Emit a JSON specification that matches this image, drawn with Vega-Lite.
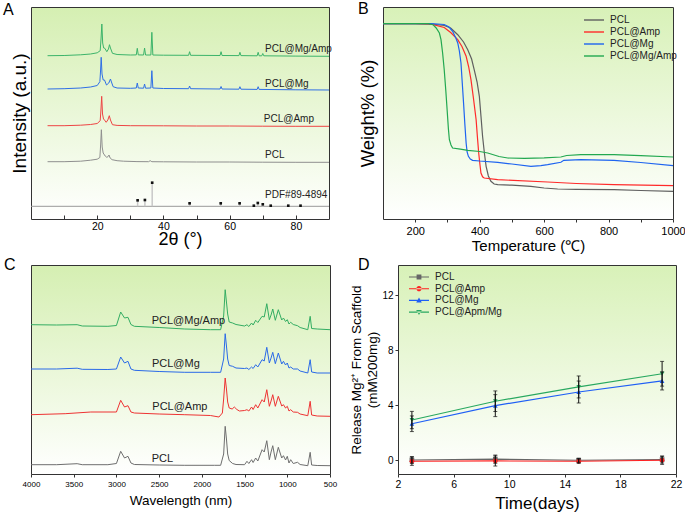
{
 "$schema": "https://vega.github.io/schema/vega-lite/v6.json",
 "padding": {"left": 2, "top": 0, "right": 0, "bottom": 0},
 "config": {
  "font": "Liberation Sans",
  "view": {"stroke": "#333", "strokeWidth": 1},
  "axis": {"grid": false, "domain": false, "tickColor": "#333", "labelColor": "#000", "titleColor": "#000", "titleFontWeight": "normal", "labelFont": "Liberation Sans", "titleFont": "Liberation Sans", "labelOverlap": false},
  "title": {"fontWeight": "normal", "fontSize": 16, "anchor": "start", "frame": "group", "color": "#000", "font": "Liberation Sans"},
  "legend": {"padding": 0, "labelFont": "Liberation Sans", "labelFontSize": 10, "labelColor": "#222"}
 },
 "datasets": {
  "xrd": [
   {"s":"PCL","x":5,"y":57.3},{"s":"PCL","x":10,"y":57.3},{"s":"PCL","x":15,"y":57.8},{"s":"PCL","x":18,"y":58.8},{"s":"PCL","x":20,"y":59.8},{"s":"PCL","x":20.8,"y":61.5},{"s":"PCL","x":21.05,"y":75},{"s":"PCL","x":21.25,"y":89.3},{"s":"PCL","x":21.5,"y":72},{"s":"PCL","x":21.8,"y":66},{"s":"PCL","x":22.0,"y":65},{"s":"PCL","x":22.4,"y":63},{"s":"PCL","x":22.9,"y":61.7},{"s":"PCL","x":23.3,"y":62.5},{"s":"PCL","x":23.55,"y":64},{"s":"PCL","x":23.9,"y":61},{"s":"PCL","x":24.5,"y":59.3},{"s":"PCL","x":26,"y":58.3},{"s":"PCL","x":28,"y":57.8},{"s":"PCL","x":32,"y":57.4},{"s":"PCL","x":35.5,"y":57.3},{"s":"PCL","x":36,"y":58.3},{"s":"PCL","x":36.5,"y":57.3},{"s":"PCL","x":40,"y":57.2},{"s":"PCL","x":45,"y":57.1},{"s":"PCL","x":50,"y":57},{"s":"PCL","x":60,"y":57},{"s":"PCL","x":70,"y":56.8},{"s":"PCL","x":80,"y":56.7},{"s":"PCL","x":90,"y":56.7},
   {"s":"PCL@Amp","x":5,"y":93.3},{"s":"PCL@Amp","x":10,"y":93.3},{"s":"PCL@Amp","x":15,"y":93.8},{"s":"PCL@Amp","x":18,"y":94.5},{"s":"PCL@Amp","x":20,"y":95.5},{"s":"PCL@Amp","x":20.9,"y":98.3},{"s":"PCL@Amp","x":21.1,"y":108},{"s":"PCL@Amp","x":21.35,"y":122.7},{"s":"PCL@Amp","x":21.6,"y":105},{"s":"PCL@Amp","x":21.9,"y":100},{"s":"PCL@Amp","x":22.2,"y":99},{"s":"PCL@Amp","x":22.7,"y":96.7},{"s":"PCL@Amp","x":23.2,"y":99},{"s":"PCL@Amp","x":23.65,"y":103.3},{"s":"PCL@Amp","x":24.0,"y":99},{"s":"PCL@Amp","x":24.6,"y":94.3},{"s":"PCL@Amp","x":26,"y":93.6},{"s":"PCL@Amp","x":30,"y":93.3},{"s":"PCL@Amp","x":40,"y":93.2},{"s":"PCL@Amp","x":50,"y":93},{"s":"PCL@Amp","x":60,"y":93},{"s":"PCL@Amp","x":70,"y":92.8},{"s":"PCL@Amp","x":80,"y":92.7},{"s":"PCL@Amp","x":90,"y":92.7},
   {"s":"PCL@Mg","x":5,"y":130},{"s":"PCL@Mg","x":10,"y":130.3},{"s":"PCL@Mg","x":15,"y":131},{"s":"PCL@Mg","x":18,"y":132},{"s":"PCL@Mg","x":20,"y":133.5},{"s":"PCL@Mg","x":20.8,"y":137.3},{"s":"PCL@Mg","x":21.0,"y":148},{"s":"PCL@Mg","x":21.2,"y":161.7},{"s":"PCL@Mg","x":21.45,"y":145},{"s":"PCL@Mg","x":21.8,"y":139},{"s":"PCL@Mg","x":22.2,"y":139},{"s":"PCL@Mg","x":22.8,"y":134},{"s":"PCL@Mg","x":23.5,"y":136},{"s":"PCL@Mg","x":24.0,"y":140},{"s":"PCL@Mg","x":24.3,"y":137},{"s":"PCL@Mg","x":24.8,"y":132.3},{"s":"PCL@Mg","x":26,"y":131},{"s":"PCL@Mg","x":30,"y":130.7},{"s":"PCL@Mg","x":31.8,"y":131},{"s":"PCL@Mg","x":32.1,"y":136},{"s":"PCL@Mg","x":32.4,"y":131},{"s":"PCL@Mg","x":34.0,"y":130.8},{"s":"PCL@Mg","x":34.3,"y":135},{"s":"PCL@Mg","x":34.6,"y":130.8},{"s":"PCL@Mg","x":36.2,"y":131},{"s":"PCL@Mg","x":36.5,"y":148.3},{"s":"PCL@Mg","x":36.8,"y":131},{"s":"PCL@Mg","x":40,"y":130.5},{"s":"PCL@Mg","x":47.6,"y":130.3},{"s":"PCL@Mg","x":47.9,"y":133},{"s":"PCL@Mg","x":48.2,"y":130.3},{"s":"PCL@Mg","x":57.1,"y":130},{"s":"PCL@Mg","x":57.4,"y":132.5},{"s":"PCL@Mg","x":57.7,"y":130},{"s":"PCL@Mg","x":62.8,"y":129.8},{"s":"PCL@Mg","x":63.1,"y":132.3},{"s":"PCL@Mg","x":63.4,"y":129.8},{"s":"PCL@Mg","x":68.3,"y":129.6},{"s":"PCL@Mg","x":68.6,"y":132.3},{"s":"PCL@Mg","x":68.9,"y":129.6},{"s":"PCL@Mg","x":80,"y":129.2},{"s":"PCL@Mg","x":90,"y":129},
   {"s":"PCL@Mg/Amp","x":5,"y":163.3},{"s":"PCL@Mg/Amp","x":10,"y":163.5},{"s":"PCL@Mg/Amp","x":15,"y":164.2},{"s":"PCL@Mg/Amp","x":18,"y":165},{"s":"PCL@Mg/Amp","x":20,"y":166.2},{"s":"PCL@Mg/Amp","x":20.9,"y":168.3},{"s":"PCL@Mg/Amp","x":21.15,"y":180},{"s":"PCL@Mg/Amp","x":21.4,"y":195},{"s":"PCL@Mg/Amp","x":21.65,"y":176},{"s":"PCL@Mg/Amp","x":21.95,"y":171},{"s":"PCL@Mg/Amp","x":22.3,"y":170.7},{"s":"PCL@Mg/Amp","x":22.9,"y":167.3},{"s":"PCL@Mg/Amp","x":23.4,"y":170},{"s":"PCL@Mg/Amp","x":23.7,"y":174.3},{"s":"PCL@Mg/Amp","x":24.0,"y":171},{"s":"PCL@Mg/Amp","x":24.6,"y":165.7},{"s":"PCL@Mg/Amp","x":26,"y":164.5},{"s":"PCL@Mg/Amp","x":30,"y":164},{"s":"PCL@Mg/Amp","x":31.8,"y":164.1},{"s":"PCL@Mg/Amp","x":32.1,"y":170.7},{"s":"PCL@Mg/Amp","x":32.4,"y":164.1},{"s":"PCL@Mg/Amp","x":34.0,"y":164},{"s":"PCL@Mg/Amp","x":34.3,"y":171},{"s":"PCL@Mg/Amp","x":34.6,"y":164},{"s":"PCL@Mg/Amp","x":36.2,"y":164},{"s":"PCL@Mg/Amp","x":36.5,"y":186.7},{"s":"PCL@Mg/Amp","x":36.8,"y":164},{"s":"PCL@Mg/Amp","x":40,"y":163.8},{"s":"PCL@Mg/Amp","x":47.6,"y":163.7},{"s":"PCL@Mg/Amp","x":47.9,"y":167.3},{"s":"PCL@Mg/Amp","x":48.2,"y":163.7},{"s":"PCL@Mg/Amp","x":57.1,"y":163.5},{"s":"PCL@Mg/Amp","x":57.4,"y":167.3},{"s":"PCL@Mg/Amp","x":57.7,"y":163.5},{"s":"PCL@Mg/Amp","x":62.8,"y":163.4},{"s":"PCL@Mg/Amp","x":63.1,"y":166.7},{"s":"PCL@Mg/Amp","x":63.4,"y":163.4},{"s":"PCL@Mg/Amp","x":68.3,"y":163.2},{"s":"PCL@Mg/Amp","x":68.6,"y":166.7},{"s":"PCL@Mg/Amp","x":68.9,"y":163.2},{"s":"PCL@Mg/Amp","x":69.7,"y":163.2},{"s":"PCL@Mg/Amp","x":70,"y":165.5},{"s":"PCL@Mg/Amp","x":70.3,"y":163.2},{"s":"PCL@Mg/Amp","x":80,"y":162.9},{"s":"PCL@Mg/Amp","x":90,"y":162.7}
  ],
  "pdf": [
   {"x":32.2,"y":18.7},{"x":34.4,"y":19},{"x":36.6,"y":36.3},{"x":47.9,"y":15.7},{"x":57.3,"y":15.7},{"x":63.0,"y":15.7},{"x":67.3,"y":13.3},{"x":68.5,"y":16},{"x":70.0,"y":14.7},{"x":72.4,"y":13.3},{"x":77.7,"y":13.3},{"x":81.4,"y":13.3}
  ],
  "labelsA": [
   {"x":70.7,"y":170,"t":"PCL@Mg/Amp"},{"x":70.7,"y":135,"t":"PCL@Mg"},{"x":70.3,"y":100,"t":"PCL@Amp"},{"x":70.7,"y":64,"t":"PCL"},{"x":70.7,"y":24,"t":"PDF#89-4894"}
  ],
  "tga": [
   {"s":"PCL","T":100,"w":195.3},{"s":"PCL","T":200,"w":195.3},{"s":"PCL","T":250,"w":195},{"s":"PCL","T":290,"w":193.5},{"s":"PCL","T":310,"w":191},{"s":"PCL","T":332,"w":184.3},{"s":"PCL","T":350,"w":177},{"s":"PCL","T":363,"w":169.3},{"s":"PCL","T":375,"w":160},{"s":"PCL","T":383,"w":149.3},{"s":"PCL","T":392,"w":137},{"s":"PCL","T":399,"w":122.7},{"s":"PCL","T":404,"w":103},{"s":"PCL","T":409,"w":82.7},{"s":"PCL","T":415,"w":65},{"s":"PCL","T":420,"w":52.7},{"s":"PCL","T":427,"w":43},{"s":"PCL","T":435,"w":37.7},{"s":"PCL","T":445,"w":35},{"s":"PCL","T":456,"w":34.3},{"s":"PCL","T":500,"w":33.8},{"s":"PCL","T":559,"w":32.7},{"s":"PCL","T":600,"w":31},{"s":"PCL","T":642,"w":30},{"s":"PCL","T":700,"w":29.7},{"s":"PCL","T":817,"w":29.3},{"s":"PCL","T":900,"w":28.5},{"s":"PCL","T":1000,"w":27.7},
   {"s":"PCL@Amp","T":100,"w":195.3},{"s":"PCL@Amp","T":200,"w":195.3},{"s":"PCL@Amp","T":250,"w":194.8},{"s":"PCL@Amp","T":290,"w":191.5},{"s":"PCL@Amp","T":310,"w":186.5},{"s":"PCL@Amp","T":332,"w":179.3},{"s":"PCL@Amp","T":345,"w":172.5},{"s":"PCL@Amp","T":358,"w":162.7},{"s":"PCL@Amp","T":366,"w":152},{"s":"PCL@Amp","T":373,"w":139.3},{"s":"PCL@Amp","T":381,"w":120},{"s":"PCL@Amp","T":389,"w":99.3},{"s":"PCL@Amp","T":393,"w":82},{"s":"PCL@Amp","T":397,"w":66},{"s":"PCL@Amp","T":401,"w":54},{"s":"PCL@Amp","T":404,"w":46},{"s":"PCL@Amp","T":409,"w":42.2},{"s":"PCL@Amp","T":414,"w":41},{"s":"PCL@Amp","T":456,"w":39.3},{"s":"PCL@Amp","T":611,"w":37},{"s":"PCL@Amp","T":700,"w":35.5},{"s":"PCL@Amp","T":817,"w":34.3},{"s":"PCL@Amp","T":1000,"w":33.3},
   {"s":"PCL@Mg","T":100,"w":195.3},{"s":"PCL@Mg","T":250,"w":195.3},{"s":"PCL@Mg","T":290,"w":194.5},{"s":"PCL@Mg","T":305,"w":192},{"s":"PCL@Mg","T":316,"w":187.7},{"s":"PCL@Mg","T":326,"w":181},{"s":"PCL@Mg","T":332,"w":176},{"s":"PCL@Mg","T":337,"w":168},{"s":"PCL@Mg","T":342,"w":156},{"s":"PCL@Mg","T":346,"w":136},{"s":"PCL@Mg","T":350,"w":116},{"s":"PCL@Mg","T":354,"w":95},{"s":"PCL@Mg","T":358,"w":76},{"s":"PCL@Mg","T":361,"w":67},{"s":"PCL@Mg","T":365,"w":62.7},{"s":"PCL@Mg","T":371,"w":60},{"s":"PCL@Mg","T":378,"w":58.7},{"s":"PCL@Mg","T":400,"w":58},{"s":"PCL@Mg","T":456,"w":56.7},{"s":"PCL@Mg","T":500,"w":55},{"s":"PCL@Mg","T":559,"w":52.7},{"s":"PCL@Mg","T":590,"w":53.3},{"s":"PCL@Mg","T":611,"w":54.3},{"s":"PCL@Mg","T":652,"w":56.7},{"s":"PCL@Mg","T":661,"w":58.7},{"s":"PCL@Mg","T":714,"w":59.3},{"s":"PCL@Mg","T":817,"w":58.7},{"s":"PCL@Mg","T":900,"w":56.5},{"s":"PCL@Mg","T":1000,"w":53.3},
   {"s":"PCL@Mg/Amp","T":100,"w":195.3},{"s":"PCL@Mg/Amp","T":240,"w":195.3},{"s":"PCL@Mg/Amp","T":255,"w":194.3},{"s":"PCL@Mg/Amp","T":265,"w":191},{"s":"PCL@Mg/Amp","T":275,"w":186},{"s":"PCL@Mg/Amp","T":280,"w":179.3},{"s":"PCL@Mg/Amp","T":285,"w":166},{"s":"PCL@Mg/Amp","T":290,"w":149.3},{"s":"PCL@Mg/Amp","T":295,"w":128},{"s":"PCL@Mg/Amp","T":299,"w":109.3},{"s":"PCL@Mg/Amp","T":303,"w":90},{"s":"PCL@Mg/Amp","T":306,"w":79.3},{"s":"PCL@Mg/Amp","T":311,"w":74},{"s":"PCL@Mg/Amp","T":316,"w":71},{"s":"PCL@Mg/Amp","T":340,"w":69.8},{"s":"PCL@Mg/Amp","T":363,"w":68.7},{"s":"PCL@Mg/Amp","T":400,"w":67.5},{"s":"PCL@Mg/Amp","T":425,"w":66},{"s":"PCL@Mg/Amp","T":460,"w":62.5},{"s":"PCL@Mg/Amp","T":487,"w":61},{"s":"PCL@Mg/Amp","T":539,"w":60.7},{"s":"PCL@Mg/Amp","T":600,"w":61.2},{"s":"PCL@Mg/Amp","T":652,"w":62},{"s":"PCL@Mg/Amp","T":670,"w":63.5},{"s":"PCL@Mg/Amp","T":714,"w":64.3},{"s":"PCL@Mg/Amp","T":817,"w":64.3},{"s":"PCL@Mg/Amp","T":900,"w":63.3},{"s":"PCL@Mg/Amp","T":1000,"w":62}
  ],
  "ftir": [
   {"s":"PCL","w":4000,"y":9.3},{"s":"PCL","w":3700,"y":9.3},{"s":"PCL","w":3460,"y":10.3},{"s":"PCL","w":3400,"y":9.3},{"s":"PCL","w":3100,"y":9.3},{"s":"PCL","w":3000,"y":10.5},{"s":"PCL","w":2950,"y":22.7},{"s":"PCL","w":2905,"y":16},{"s":"PCL","w":2865,"y":17.7},{"s":"PCL","w":2830,"y":11},{"s":"PCL","w":2790,"y":9.5},{"s":"PCL","w":2500,"y":9.0},{"s":"PCL","w":2200,"y":8.7},{"s":"PCL","w":1850,"y":8.7},{"s":"PCL","w":1780,"y":8.7},{"s":"PCL","w":1745,"y":20},{"s":"PCL","w":1727,"y":47.7},{"s":"PCL","w":1712,"y":35},{"s":"PCL","w":1698,"y":20},{"s":"PCL","w":1680,"y":13.5},{"s":"PCL","w":1640,"y":10.5},{"s":"PCL","w":1600,"y":9.5},{"s":"PCL","w":1500,"y":9.3},{"s":"PCL","w":1472,"y":12.7},{"s":"PCL","w":1450,"y":10.5},{"s":"PCL","w":1418,"y":14.3},{"s":"PCL","w":1400,"y":11.5},{"s":"PCL","w":1370,"y":16},{"s":"PCL","w":1345,"y":13},{"s":"PCL","w":1295,"y":24.3},{"s":"PCL","w":1270,"y":22},{"s":"PCL","w":1240,"y":33.3},{"s":"PCL","w":1210,"y":14.3},{"s":"PCL","w":1190,"y":22},{"s":"PCL","w":1170,"y":28.3},{"s":"PCL","w":1140,"y":14.3},{"s":"PCL","w":1105,"y":26.7},{"s":"PCL","w":1065,"y":16},{"s":"PCL","w":1045,"y":18.3},{"s":"PCL","w":1020,"y":14},{"s":"PCL","w":1000,"y":17.7},{"s":"PCL","w":980,"y":11},{"s":"PCL","w":960,"y":14.3},{"s":"PCL","w":930,"y":10.5},{"s":"PCL","w":880,"y":11.7},{"s":"PCL","w":850,"y":9.5},{"s":"PCL","w":760,"y":8.3},{"s":"PCL","w":732,"y":21.7},{"s":"PCL","w":715,"y":9},{"s":"PCL","w":650,"y":8.5},{"s":"PCL","w":500,"y":8.3},
   {"s":"PCL@Amp","w":4000,"y":59.3},{"s":"PCL@Amp","w":3600,"y":60.3},{"s":"PCL@Amp","w":3300,"y":62},{"s":"PCL@Amp","w":3000,"y":62},{"s":"PCL@Amp","w":2950,"y":73.7},{"s":"PCL@Amp","w":2905,"y":67},{"s":"PCL@Amp","w":2865,"y":68.3},{"s":"PCL@Amp","w":2830,"y":62},{"s":"PCL@Amp","w":2790,"y":61},{"s":"PCL@Amp","w":2500,"y":60},{"s":"PCL@Amp","w":2200,"y":59.3},{"s":"PCL@Amp","w":1900,"y":58.5},{"s":"PCL@Amp","w":1800,"y":57},{"s":"PCL@Amp","w":1760,"y":61},{"s":"PCL@Amp","w":1745,"y":75},{"s":"PCL@Amp","w":1727,"y":96},{"s":"PCL@Amp","w":1712,"y":85},{"s":"PCL@Amp","w":1698,"y":72},{"s":"PCL@Amp","w":1680,"y":66},{"s":"PCL@Amp","w":1645,"y":65},{"s":"PCL@Amp","w":1620,"y":67},{"s":"PCL@Amp","w":1590,"y":64.5},{"s":"PCL@Amp","w":1560,"y":63},{"s":"PCL@Amp","w":1500,"y":63.5},{"s":"PCL@Amp","w":1472,"y":64.3},{"s":"PCL@Amp","w":1450,"y":63},{"s":"PCL@Amp","w":1418,"y":67},{"s":"PCL@Amp","w":1400,"y":64.5},{"s":"PCL@Amp","w":1370,"y":69.3},{"s":"PCL@Amp","w":1345,"y":66},{"s":"PCL@Amp","w":1295,"y":74.3},{"s":"PCL@Amp","w":1270,"y":72},{"s":"PCL@Amp","w":1240,"y":84.3},{"s":"PCL@Amp","w":1210,"y":67.7},{"s":"PCL@Amp","w":1190,"y":73},{"s":"PCL@Amp","w":1170,"y":79.3},{"s":"PCL@Amp","w":1140,"y":67.7},{"s":"PCL@Amp","w":1105,"y":77.7},{"s":"PCL@Amp","w":1065,"y":68},{"s":"PCL@Amp","w":1045,"y":69.3},{"s":"PCL@Amp","w":1020,"y":66},{"s":"PCL@Amp","w":1000,"y":67.7},{"s":"PCL@Amp","w":980,"y":63},{"s":"PCL@Amp","w":960,"y":64.3},{"s":"PCL@Amp","w":930,"y":62},{"s":"PCL@Amp","w":880,"y":61.7},{"s":"PCL@Amp","w":850,"y":60},{"s":"PCL@Amp","w":760,"y":58.3},{"s":"PCL@Amp","w":732,"y":72.7},{"s":"PCL@Amp","w":715,"y":59},{"s":"PCL@Amp","w":650,"y":58},{"s":"PCL@Amp","w":500,"y":57.7},
   {"s":"PCL@Mg","w":4000,"y":105},{"s":"PCL@Mg","w":3700,"y":105},{"s":"PCL@Mg","w":3460,"y":105.8},{"s":"PCL@Mg","w":3400,"y":104.7},{"s":"PCL@Mg","w":3100,"y":104.5},{"s":"PCL@Mg","w":3000,"y":105},{"s":"PCL@Mg","w":2950,"y":117},{"s":"PCL@Mg","w":2905,"y":111},{"s":"PCL@Mg","w":2865,"y":112.7},{"s":"PCL@Mg","w":2830,"y":105},{"s":"PCL@Mg","w":2790,"y":103.7},{"s":"PCL@Mg","w":2500,"y":102.5},{"s":"PCL@Mg","w":2200,"y":101.7},{"s":"PCL@Mg","w":1900,"y":101.7},{"s":"PCL@Mg","w":1780,"y":101.7},{"s":"PCL@Mg","w":1745,"y":115},{"s":"PCL@Mg","w":1727,"y":140.3},{"s":"PCL@Mg","w":1712,"y":128},{"s":"PCL@Mg","w":1698,"y":115},{"s":"PCL@Mg","w":1680,"y":108.5},{"s":"PCL@Mg","w":1640,"y":107.7},{"s":"PCL@Mg","w":1600,"y":106},{"s":"PCL@Mg","w":1500,"y":105.5},{"s":"PCL@Mg","w":1472,"y":106},{"s":"PCL@Mg","w":1450,"y":104.5},{"s":"PCL@Mg","w":1418,"y":107},{"s":"PCL@Mg","w":1400,"y":105.5},{"s":"PCL@Mg","w":1370,"y":109.3},{"s":"PCL@Mg","w":1345,"y":107},{"s":"PCL@Mg","w":1295,"y":114.3},{"s":"PCL@Mg","w":1270,"y":113},{"s":"PCL@Mg","w":1240,"y":126.7},{"s":"PCL@Mg","w":1210,"y":111},{"s":"PCL@Mg","w":1190,"y":116},{"s":"PCL@Mg","w":1170,"y":121.7},{"s":"PCL@Mg","w":1140,"y":110.3},{"s":"PCL@Mg","w":1105,"y":121},{"s":"PCL@Mg","w":1065,"y":110},{"s":"PCL@Mg","w":1045,"y":112.7},{"s":"PCL@Mg","w":1020,"y":109},{"s":"PCL@Mg","w":1000,"y":111},{"s":"PCL@Mg","w":980,"y":106},{"s":"PCL@Mg","w":960,"y":107},{"s":"PCL@Mg","w":930,"y":105},{"s":"PCL@Mg","w":880,"y":105},{"s":"PCL@Mg","w":850,"y":103},{"s":"PCL@Mg","w":760,"y":101},{"s":"PCL@Mg","w":732,"y":114.3},{"s":"PCL@Mg","w":715,"y":102},{"s":"PCL@Mg","w":650,"y":101},{"s":"PCL@Mg","w":500,"y":101},
   {"s":"PCL@Mg/Amp","w":4000,"y":149.3},{"s":"PCL@Mg/Amp","w":3700,"y":149},{"s":"PCL@Mg/Amp","w":3460,"y":149.3},{"s":"PCL@Mg/Amp","w":3400,"y":148},{"s":"PCL@Mg/Amp","w":3100,"y":147.7},{"s":"PCL@Mg/Amp","w":3000,"y":148.5},{"s":"PCL@Mg/Amp","w":2950,"y":162},{"s":"PCL@Mg/Amp","w":2905,"y":156},{"s":"PCL@Mg/Amp","w":2865,"y":156.7},{"s":"PCL@Mg/Amp","w":2830,"y":149.5},{"s":"PCL@Mg/Amp","w":2790,"y":147.7},{"s":"PCL@Mg/Amp","w":2500,"y":146.5},{"s":"PCL@Mg/Amp","w":2200,"y":145},{"s":"PCL@Mg/Amp","w":1900,"y":144.3},{"s":"PCL@Mg/Amp","w":1780,"y":144.3},{"s":"PCL@Mg/Amp","w":1745,"y":158},{"s":"PCL@Mg/Amp","w":1727,"y":184.3},{"s":"PCL@Mg/Amp","w":1712,"y":172},{"s":"PCL@Mg/Amp","w":1698,"y":160},{"s":"PCL@Mg/Amp","w":1680,"y":152},{"s":"PCL@Mg/Amp","w":1640,"y":151},{"s":"PCL@Mg/Amp","w":1600,"y":149.5},{"s":"PCL@Mg/Amp","w":1500,"y":148},{"s":"PCL@Mg/Amp","w":1472,"y":149.3},{"s":"PCL@Mg/Amp","w":1450,"y":147.5},{"s":"PCL@Mg/Amp","w":1418,"y":151},{"s":"PCL@Mg/Amp","w":1400,"y":149},{"s":"PCL@Mg/Amp","w":1370,"y":153.7},{"s":"PCL@Mg/Amp","w":1345,"y":151.5},{"s":"PCL@Mg/Amp","w":1295,"y":157.7},{"s":"PCL@Mg/Amp","w":1270,"y":157},{"s":"PCL@Mg/Amp","w":1240,"y":170.3},{"s":"PCL@Mg/Amp","w":1210,"y":154.3},{"s":"PCL@Mg/Amp","w":1190,"y":159},{"s":"PCL@Mg/Amp","w":1170,"y":165},{"s":"PCL@Mg/Amp","w":1140,"y":153.7},{"s":"PCL@Mg/Amp","w":1105,"y":164.3},{"s":"PCL@Mg/Amp","w":1065,"y":154},{"s":"PCL@Mg/Amp","w":1045,"y":156},{"s":"PCL@Mg/Amp","w":1020,"y":152.5},{"s":"PCL@Mg/Amp","w":1000,"y":154.3},{"s":"PCL@Mg/Amp","w":980,"y":150},{"s":"PCL@Mg/Amp","w":960,"y":151.7},{"s":"PCL@Mg/Amp","w":930,"y":149.5},{"s":"PCL@Mg/Amp","w":880,"y":148.3},{"s":"PCL@Mg/Amp","w":850,"y":146.5},{"s":"PCL@Mg/Amp","w":760,"y":144.3},{"s":"PCL@Mg/Amp","w":732,"y":157.7},{"s":"PCL@Mg/Amp","w":715,"y":145.5},{"s":"PCL@Mg/Amp","w":650,"y":145},{"s":"PCL@Mg/Amp","w":500,"y":144.3}
  ],
  "labelsC": [
   {"w":2587,"y":152.7,"t":"PCL@Mg/Amp"},{"w":2584,"y":110,"t":"PCL@Mg"},{"w":2580,"y":66.7,"t":"PCL@Amp"},{"w":2587,"y":15,"t":"PCL"}
  ],
  "release": [
   {"s":"PCL","t":3,"v":0.02,"lo":-0.23,"hi":0.27},{"s":"PCL","t":9,"v":0.08,"lo":-0.22,"hi":0.38},{"s":"PCL","t":15,"v":0.0,"lo":-0.15,"hi":0.15},{"s":"PCL","t":21,"v":0.05,"lo":-0.2,"hi":0.3},
   {"s":"PCL@Amp","t":3,"v":-0.07,"lo":-0.37,"hi":0.23},{"s":"PCL@Amp","t":9,"v":-0.05,"lo":-0.42,"hi":0.32},{"s":"PCL@Amp","t":15,"v":-0.07,"lo":-0.23,"hi":0.09},{"s":"PCL@Amp","t":21,"v":0.0,"lo":-0.3,"hi":0.3},
   {"s":"PCL@Mg","t":3,"v":2.66,"lo":2.09,"hi":3.23},{"s":"PCL@Mg","t":9,"v":3.98,"lo":3.18,"hi":4.78},{"s":"PCL@Mg","t":15,"v":4.97,"lo":4.17,"hi":5.77},{"s":"PCL@Mg","t":21,"v":5.78,"lo":5.12,"hi":6.44},
   {"s":"PCL@Apm/Mg","t":3,"v":2.93,"lo":2.3,"hi":3.56},{"s":"PCL@Apm/Mg","t":9,"v":4.3,"lo":3.55,"hi":5.05},{"s":"PCL@Apm/Mg","t":15,"v":5.34,"lo":4.54,"hi":6.14},{"s":"PCL@Apm/Mg","t":21,"v":6.3,"lo":5.4,"hi":7.2}
  ]
 },
 "resolve": {"scale": {"color": "independent", "shape": "independent"}, "legend": {"color": "independent", "shape": "independent"}},
 "spacing": 2,
 "vconcat": [
  {
   "bounds": "flush",
   "spacing": 54,
   "resolve": {"scale": {"color": "independent", "shape": "independent"}, "legend": {"color": "independent", "shape": "independent"}},
   "hconcat": [
    {
     "width": 298, "height": 212,
     "view": {"stroke": "#333", "fill": {"gradient": "linear", "x1": 0, "y1": 0, "x2": 0, "y2": 1, "stops": [{"offset": 0, "color": "#d5efb2"}, {"offset": 1, "color": "#ffffff"}]}},
     "title": {"text": "A", "offset": -11, "dx": -28},
     "layer": [
      {"data": {"values": [{}]}, "mark": {"type": "rule", "color": "#999", "strokeWidth": 1}, "encoding": {"y": {"datum": 12.7, "type": "quantitative", "scale": {"domain": [0, 212]}}}},
      {"data": {"name": "pdf"}, "mark": {"type": "rule", "color": "#c8c8c8", "strokeWidth": 1.5}, "encoding": {"x": {"field": "x", "type": "quantitative"}, "y": {"field": "y", "type": "quantitative"}, "y2": {"datum": 12.7}}},
      {"data": {"name": "pdf"}, "mark": {"type": "point", "shape": "square", "filled": true, "color": "#111", "size": 7, "opacity": 1}, "encoding": {"x": {"field": "x", "type": "quantitative"}, "y": {"field": "y", "type": "quantitative"}}},
      {"data": {"name": "xrd"}, "mark": {"type": "line", "strokeWidth": 1}, "encoding": {
        "x": {"field": "x", "type": "quantitative", "scale": {"domain": [5, 90], "nice": false}, "axis": {"title": "2θ (°)", "values": [10,20,30,40,50,60,70,80], "labelExpr": "datum.value % 20 === 0 ? datum.label : ''", "labelOverlap": false, "tickSize": -4, "labelPadding": 6, "labelFontSize": 10.5, "titleFontSize": 18, "titlePadding": -1, "labelFlush": false}},
        "y": {"field": "y", "type": "quantitative", "scale": {"domain": [0, 212], "nice": false}, "axis": {"title": "Intensity (a.u.)", "labels": false, "ticks": false, "titleFontSize": 19, "titlePadding": 2}},
        "color": {"field": "s", "type": "nominal", "scale": {"domain": ["PCL", "PCL@Amp", "PCL@Mg", "PCL@Mg/Amp"], "range": ["#8f8f8f", "#ee4444", "#2f6fe6", "#3cb46a"]}, "legend": null}}},
      {"data": {"name": "labelsA"}, "mark": {"type": "text", "align": "left", "baseline": "middle", "fontSize": 10, "color": "#222"}, "encoding": {"x": {"field": "x", "type": "quantitative"}, "y": {"field": "y", "type": "quantitative"}, "text": {"field": "t", "type": "nominal"}}}
     ]
    },
    {
     "width": 290, "height": 212,
     "view": {"stroke": "#333", "fill": {"gradient": "linear", "x1": 0, "y1": 0, "x2": 0, "y2": 1, "stops": [{"offset": 0, "color": "#d8f1b8"}, {"offset": 1, "color": "#ffffff"}]}},
     "title": {"text": "B", "offset": -10, "dx": -25},
     "data": {"name": "tga"},
     "mark": {"type": "line", "strokeWidth": 1.2},
     "encoding": {
      "x": {"field": "T", "type": "quantitative", "scale": {"domain": [100, 1000], "nice": false}, "axis": {"title": "Temperature (℃)", "values": [200,300,400,500,600,700,800,900,1000], "format": "d", "labelExpr": "datum.value % 200 === 0 ? datum.label : ''", "labelOverlap": false, "tickSize": 3, "labelPadding": 3, "labelFontSize": 11, "titleFontSize": 15, "titlePadding": 2, "labelFlush": false}},
      "y": {"field": "w", "type": "quantitative", "scale": {"domain": [0, 212], "nice": false}, "axis": {"title": "Weight% (%)", "labels": false, "ticks": false, "titleFontSize": 18.5, "titlePadding": 6}},
      "color": {"field": "s", "type": "nominal", "scale": {"domain": ["PCL", "PCL@Amp", "PCL@Mg", "PCL@Mg/Amp"], "range": ["#5f5f5f", "#ff2a2a", "#1e64f0", "#22a850"]}, "legend": {"title": null, "orient": "none", "legendX": 206, "legendY": 8, "symbolType": "M-2.5,0H2.5", "symbolSize": 64, "symbolStrokeWidth": 1.4, "labelOffset": 11, "rowPadding": 2}}
     }
    }
   ]
  },
  {
   "bounds": "flush",
   "spacing": 68,
   "resolve": {"scale": {"color": "independent", "shape": "independent"}, "legend": {"color": "independent", "shape": "independent"}},
   "hconcat": [
    {
     "width": 299, "height": 209,
     "view": {"stroke": "#333", "fill": {"gradient": "linear", "x1": 0, "y1": 0, "x2": 0, "y2": 1, "stops": [{"offset": 0, "color": "#d5efb2"}, {"offset": 1, "color": "#ffffff"}]}},
     "title": {"text": "C", "offset": -8, "dx": -27},
     "layer": [
      {"data": {"name": "ftir"}, "mark": {"type": "line", "strokeWidth": 1}, "encoding": {
        "x": {"field": "w", "type": "quantitative", "scale": {"domain": [500, 4000], "reverse": true, "nice": false}, "axis": {"title": "Wavelength (nm)", "values": [4000,3750,3500,3250,3000,2750,2500,2250,2000,1750,1500,1250,1000,750,500], "format": "d", "labelExpr": "datum.value % 500 === 0 ? datum.label : ''", "labelOverlap": false, "tickSize": 3, "labelPadding": 3, "labelFontSize": 8, "titleFontSize": 13.5, "titlePadding": 5, "labelFlush": false}},
        "y": {"field": "y", "type": "quantitative", "scale": {"domain": [0, 209], "nice": false}, "axis": null},
        "color": {"field": "s", "type": "nominal", "scale": {"domain": ["PCL", "PCL@Amp", "PCL@Mg", "PCL@Mg/Amp"], "range": ["#6e6e6e", "#ee3333", "#2a6ae8", "#33ad62"]}, "legend": null}}},
      {"data": {"name": "labelsC"}, "mark": {"type": "text", "align": "left", "baseline": "middle", "fontSize": 11, "color": "#222"}, "encoding": {"x": {"field": "w", "type": "quantitative"}, "y": {"field": "y", "type": "quantitative"}, "text": {"field": "t", "type": "nominal"}}}
     ]
    },
    {
     "width": 278, "height": 209,
     "view": {"stroke": "#333", "fill": {"gradient": "linear", "x1": 0, "y1": 0, "x2": 0, "y2": 1, "stops": [{"offset": 0, "color": "#d8f1b8"}, {"offset": 1, "color": "#ffffff"}]}},
     "title": {"text": "D", "offset": -8, "dx": -40},
     "data": {"name": "release"},
     "resolve": {"scale": {"color": "independent", "shape": "independent"}, "legend": {"color": "independent", "shape": "independent"}},
     "layer": [
      {"mark": {"type": "line", "strokeWidth": 1.2}, "encoding": {
        "x": {"field": "t", "type": "quantitative", "scale": {"domain": [2, 22], "nice": false}, "axis": {"title": "Time(days)", "values": [2,4,6,8,10,12,14,16,18,20,22], "labelOverlap": false, "tickSize": 3, "labelPadding": 2, "labelFontSize": 10.5, "titleFontSize": 17, "titlePadding": 6, "labelFlush": false}},
        "y": {"field": "v", "type": "quantitative", "scale": {"domain": [-1, 14.22], "nice": false}, "axis": {"title": ["Release Mg²⁺ From Scaffold", "(mM\\200mg)"], "values": [0,2,4,6,8,10,12,14], "labelOverlap": false, "tickSize": 3, "labelPadding": 2, "labelFontSize": 10, "titleFontSize": 13.5, "titleLineHeight": 16, "titlePadding": 2, "labelFlush": false}},
        "color": {"field": "s", "type": "nominal", "scale": {"domain": ["PCL", "PCL@Amp", "PCL@Mg", "PCL@Apm/Mg"], "range": ["#666666", "#ff2020", "#1f5ff5", "#28a860"]}, "legend": null}}},
      {"mark": {"type": "point", "filled": true, "size": 22, "opacity": 1}, "encoding": {
        "x": {"field": "t", "type": "quantitative"},
        "y": {"field": "v", "type": "quantitative"},
        "color": {"field": "s", "type": "nominal", "scale": {"domain": ["PCL", "PCL@Amp", "PCL@Mg", "PCL@Apm/Mg"], "range": ["#666666", "#ff2020", "#1f5ff5", "#28a860"]}, "legend": null},
        "shape": {"field": "s", "type": "nominal", "scale": {"domain": ["PCL", "PCL@Amp", "PCL@Mg", "PCL@Apm/Mg"], "range": ["square", "circle", "triangle-up", "triangle-down"]}, "legend": null}}},
      {"transform": [{"filter": "false"}], "mark": {"type": "point", "filled": true, "opacity": 1}, "encoding": {
        "x": {"field": "t", "type": "quantitative"},
        "y": {"field": "v", "type": "quantitative"},
        "color": {"field": "s", "type": "nominal", "scale": {"domain": ["PCL", "PCL@Amp", "PCL@Mg", "PCL@Apm/Mg"], "range": ["#666666", "#ff2020", "#1f5ff5", "#28a860"]}, "legend": {"title": null, "orient": "none", "legendX": 16, "legendY": 7, "symbolSize": 64, "labelOffset": 11, "rowPadding": 1.7}},
        "shape": {"field": "s", "type": "nominal", "scale": {"domain": ["PCL", "PCL@Amp", "PCL@Mg", "PCL@Apm/Mg"], "range": ["M-2.5,-0.14H2.5V0.14H-2.5ZM-0.6,-0.6H0.6V0.6H-0.6Z", "M-2.5,-0.14H2.5V0.14H-2.5ZM-0.65,0A0.65,0.65 0 1,0 0.65,0A0.65,0.65 0 1,0 -0.65,0Z", "M-2.5,-0.14H2.5V0.14H-2.5ZM0,-0.75L0.7,0.5H-0.7Z", "M-2.5,-0.14H2.5V0.14H-2.5ZM0,0.75L0.7,-0.5H-0.7Z"]}, "legend": {"title": null, "orient": "none", "legendX": 16, "legendY": 7, "symbolSize": 64, "labelOffset": 11, "rowPadding": 1.7}}}},
      {"mark": {"type": "rule", "color": "#111", "strokeWidth": 1}, "encoding": {"x": {"field": "t", "type": "quantitative"}, "y": {"field": "lo", "type": "quantitative"}, "y2": {"field": "hi"}}},
      {"mark": {"type": "tick", "orient": "horizontal", "color": "#111", "size": 4, "thickness": 1}, "encoding": {"x": {"field": "t", "type": "quantitative"}, "y": {"field": "lo", "type": "quantitative"}}},
      {"mark": {"type": "tick", "orient": "horizontal", "color": "#111", "size": 4, "thickness": 1}, "encoding": {"x": {"field": "t", "type": "quantitative"}, "y": {"field": "hi", "type": "quantitative"}}}
     ]
    }
   ]
  }
 ]
}
